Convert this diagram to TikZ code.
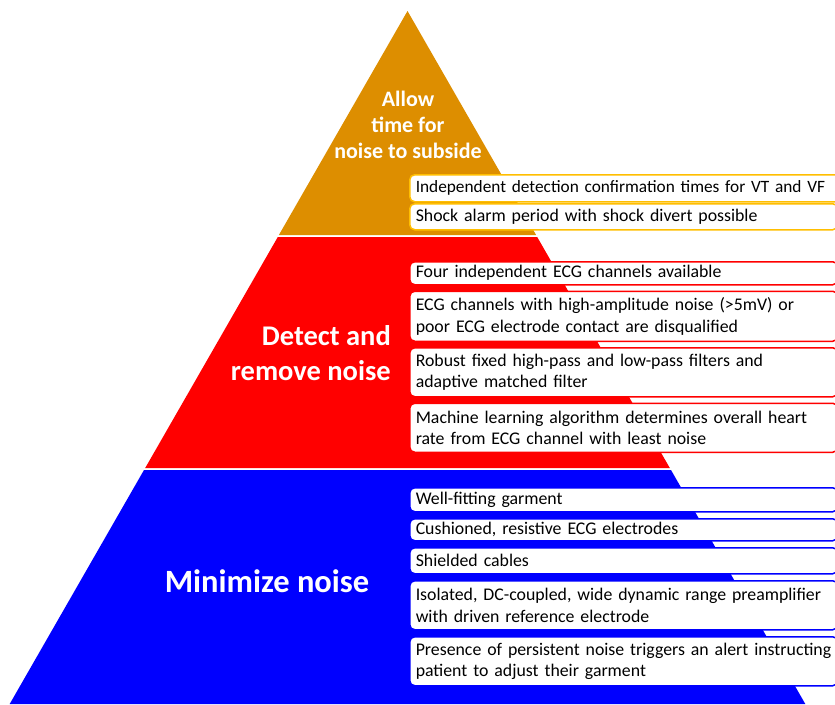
\documentclass[tikz,border=0pt]{standalone}
\usepackage{fontspec}
\setmainfont{Carlito}
\usetikzlibrary{positioning}
\definecolor{tierorange}{RGB}{221,142,0}
\definecolor{tiergold}{RGB}{255,190,0}
\definecolor{tierred}{RGB}{255,0,0}
\definecolor{tierblue}{RGB}{0,0,255}

\begin{document}
\begin{tikzpicture}[
    x=1pt, y=-1pt,
    item/.style={draw=#1, fill=white, line width=1.5pt, rounded corners=5pt,
                 minimum width=428pt, text width=416pt, inner xsep=6pt,
                 inner ysep=0pt, align=left,
                 font=\fontsize{17.8}{21.7}\selectfont},
    tiertext/.style={text=white, font=\bfseries, inner sep=0pt},
  ]
  \useasboundingbox (0,0) rectangle (835,704);

  % pyramid tiers
  \fill[tierorange] (407.5,11) -- (536.1,235) -- (278.9,235) -- cycle;
  \fill[tierred] (277.8,237) -- (537.2,237) -- (669.8,468) -- (145.2,468) -- cycle;
  \fill[tierblue] (144,470) -- (671,470) -- (805.3,704) -- (9.7,704) -- cycle;

  % tier titles
  \node[tiertext, align=center, font=\bfseries\fontsize{22}{26}\selectfont]
    (top) at (408,125) {Allow\\time for\\noise to subside};
  \node[tiertext, align=right, anchor=east, font=\bfseries\fontsize{28.5}{35}\selectfont]
    (mid) at (391,353) {Detect and\\remove noise};
  \node[tiertext, font=\bfseries\fontsize{32.5}{38}\selectfont]
    (base) at (267,581) {Minimize noise};

  % orange items
  \node[item=tiergold, anchor=north west, minimum height=27pt, text width=440pt,
        font=\fontsize{17.3}{21}\selectfont] (o1) at (409,174)
    {Independent detection confirmation times for VT and VF};
  \node[item=tiergold, anchor=north west, minimum height=26pt] (o2) at (409,203)
    {Shock alarm period with shock divert possible};

  % red items
  \node[item=tierred, anchor=north west, minimum height=23pt] (r1) at (409,261)
    {Four independent ECG channels available};
  \node[item=tierred, minimum height=50pt, below=5pt of r1] (r2)
    {ECG channels with high-amplitude noise (>5mV) or\\poor ECG electrode contact are disqualified};
  \node[item=tierred, minimum height=49pt, below=5pt of r2] (r3)
    {Robust fixed high-pass and low-pass filters and\\adaptive matched filter};
  \node[item=tierred, minimum height=49pt, below=5pt of r3] (r4)
    {Machine learning algorithm determines overall heart\\rate from ECG channel with least noise};

  % blue items
  \node[item=tierblue, anchor=north west, minimum height=24pt] (b1) at (409,487)
    {Well-fitting garment};
  \node[item=tierblue, minimum height=22pt, below=5.5pt of b1] (b2)
    {Cushioned, resistive ECG electrodes};
  \node[item=tierblue, minimum height=26pt, below=5.5pt of b2] (b3)
    {Shielded cables};
  \node[item=tierblue, minimum height=49pt, below=5.5pt of b3] (b4)
    {Isolated, DC-coupled, wide dynamic range preamplifier\\with driven reference electrode};
  \node[item=tierblue, minimum height=49pt, below=5.5pt of b4] (b5)
    {Presence of persistent noise triggers an alert instructing\\patient to adjust their garment};

\end{tikzpicture}
\end{document}
